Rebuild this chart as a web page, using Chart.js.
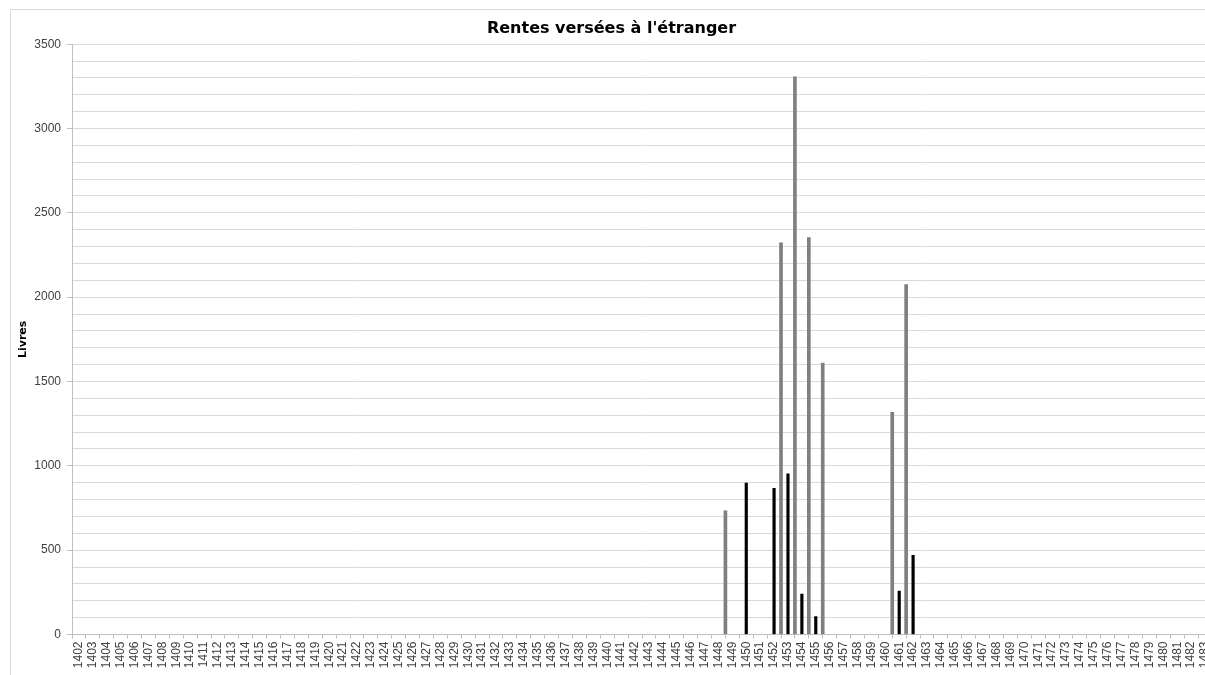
<!DOCTYPE html>
<html lang="fr">
<head>
  <meta charset="UTF-8" />
  <title>Rentes versées à l'étranger</title>
  <script src="https://cdn.jsdelivr.net/npm/chart.js"></script>
  <style>
    body {
      margin: 0;
      background: #fff;
      overflow: hidden;
      width: 1205px;
      height: 675px;
    }
    .frame {
      position: absolute;
      left: 10px;
      top: 9px;
      width: 1202px;
      height: 690px;
      border: 1px solid #d9d9d9;
      background: #fff;
    }
    canvas { display: block; }
  </style>
</head>
<body>
  <div class="frame"><canvas id="chart" width="1202" height="690"></canvas></div>

  <script>
    // categories (years) of the x axis
    const years = [
      1402, 1403, 1404, 1405, 1406, 1407, 1408, 1409, 1410, 1411,
      1412, 1413, 1414, 1415, 1416, 1417, 1418, 1419, 1420, 1421,
      1422, 1423, 1424, 1425, 1426, 1427, 1428, 1429, 1430, 1431,
      1432, 1433, 1434, 1435, 1436, 1437, 1438, 1439, 1440, 1441,
      1442, 1443, 1444, 1445, 1446, 1447, 1448, 1449, 1450, 1451,
      1452, 1453, 1454, 1455, 1456, 1457, 1458, 1459, 1460, 1461,
      1462, 1463, 1464, 1465, 1466, 1467, 1468, 1469, 1470, 1471,
      1472, 1473, 1474, 1475, 1476, 1477, 1478, 1479, 1480, 1481,
      1482, 1483
    ];

    // black series, centred on its year
    const blackYears  = [1450, 1452, 1453, 1454, 1455, 1461, 1462];
    const blackValues = [ 898,  866,  953,  239,  106,  257,  469];

    // grey series, drawn on the boundary at the start of its year
    const greyYears  = [1449, 1453, 1454, 1455, 1456, 1461, 1462];
    const greyValues = [ 733, 2323, 3306, 2354, 1610, 1317, 2075];

    const yMax = 3500;
    const yStep = 100;
    const yLabelStep = 500;

    const blackData = years.map(y => {
      const i = blackYears.indexOf(y);
      return i < 0 ? null : blackValues[i];
    });
    const greyData = greyYears.map((y, i) => ({ x: y, y: greyValues[i] }));

    const ctx = document.getElementById('chart').getContext('2d');
    new Chart(ctx, {
      type: 'bar',
      data: {
        labels: years,
        datasets: [
          {
            label: 'Série 1',
            data: greyData,
            xAxisID: 'x2',
            backgroundColor: '#7f7f7f',
            barThickness: 3,
            grouped: false
          },
          {
            label: 'Série 2',
            data: blackData,
            xAxisID: 'x',
            backgroundColor: '#000',
            barThickness: 2.5,
            grouped: false
          }
        ]
      },
      options: {
        responsive: false,
        animation: false,
        layout: { padding: { left: 0, right: 1, top: 0, bottom: 0 } },
        plugins: {
          legend: { display: false },
          tooltip: { enabled: false },
          title: {
            display: true,
            text: "Rentes versées à l'étranger",
            color: '#000',
            font: { family: 'DejaVu Sans', size: 16, weight: 'bold' },
            padding: { top: 9, bottom: 6 }
          }
        },
        scales: {
          x: {
            type: 'category',
            offset: true,
            afterFit: s => {
              s.height = 65.5;
              s.paddingLeft = 0;
              s.paddingRight = 0;
            },
            border: { color: '#bfbfbf' },
            grid: {
              offset: true,
              drawOnChartArea: false,
              tickLength: 4,
              tickColor: '#bfbfbf'
            },
            ticks: {
              autoSkip: false,
              minRotation: 90,
              maxRotation: 90,
              padding: 3,
              color: '#404040',
              font: { family: 'Liberation Sans', size: 12 }
            }
          },
          x2: {
            type: 'linear',
            display: false,
            offset: false,
            min: years[0],
            max: years[years.length - 1] + 1
          },
          y: {
            min: 0,
            max: yMax,
            afterFit: s => { s.width = 61; },
            border: { color: '#bfbfbf' },
            grid: {
              color: '#d9d9d9',
              tickLength: 5,
              tickColor: c => (c.tick && c.tick.value % yLabelStep === 0) ? '#bfbfbf' : 'rgba(0,0,0,0)'
            },
            ticks: {
              stepSize: yStep,
              autoSkip: false,
              maxTicksLimit: 100,
              padding: 6,
              color: '#404040',
              font: { family: 'Liberation Sans', size: 12 },
              callback: v => v % yLabelStep === 0 ? v : ''
            },
            title: {
              display: true,
              text: 'Livres',
              color: '#000',
              font: { family: 'DejaVu Sans', size: 11, weight: 'bold' },
              padding: { top: 6, bottom: 0 }
            }
          }
        }
      }
    });
  </script>
</body>
</html>
